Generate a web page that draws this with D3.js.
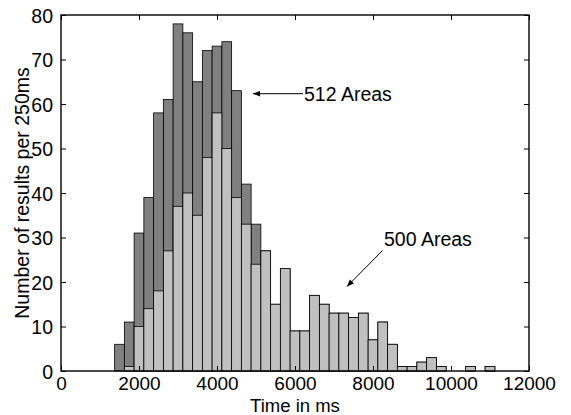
<!DOCTYPE html>
<html>
<head>
<meta charset="utf-8">
<script src="https://cdn.jsdelivr.net/npm/d3@7"></script>
<style>
  html, body { margin: 0; padding: 0; background: #fff; }
  svg { display: block; }
  text { font-family: "Liberation Sans", Arial, Helvetica, sans-serif; fill: #000; }
</style>
</head>
<body>
<svg id="chart" width="571" height="415"></svg>
<script>
// Bin centres (ms), bins are 250 ms wide
const binCenters = [1500,1750,2000,2250,2500,2750,3000,3250,3500,3750,4000,4250,4500,4750,5000,5250,5500,5750,6000,6250,6500,6750,7000,7250,7500,7750,8000,8250,8500,8750,9000,9250,9500,9750,10000,10250,10500,10750,11000];
const areas512 = [6,11,31,39,58,61,78,76,65,72,73,74,63,42,33,27,15,23,9,9,17,15,13,13,12,13,7,11,6,1,1,2,3,1,0,0,1,0,1];
const areas500 = [0,1,10,14,18,27,37,40,35,48,58,50,39,33,24,27,15,23,9,9,17,15,13,13,12,13,7,11,6,1,1,2,3,1,0,0,1,0,1];
const binWidth = 250;
const xTicks = [0,2000,4000,6000,8000,10000,12000];
const yTicks = [0,10,20,30,40,50,60,70,80];
const xLabel = "Time in ms";
const yLabel = "Number of results per 250ms";
const label512 = "512 Areas";
const label500 = "500 Areas";

const svg = d3.select("#chart");
const L = 61, R = 529, T = 15, B = 371;
const x = d3.scaleLinear().domain([0, 12000]).range([L, R]);
const y = d3.scaleLinear().domain([0, 80]).range([B, T]);

function drawBars(vals, fill) {
  const data = binCenters.map((c, i) => ({c, v: vals[i]})).filter(d => d.v > 0);
  svg.append("g").selectAll("rect").data(data).join("rect")
    .attr("x", d => x(d.c - binWidth / 2))
    .attr("width", d => x(d.c + binWidth / 2) - x(d.c - binWidth / 2))
    .attr("y", d => y(d.v))
    .attr("height", d => y(0) - y(d.v))
    .attr("fill", fill)
    .attr("stroke", "#000")
    .attr("stroke-width", 0.8);
}
drawBars(areas512, "#808080");
drawBars(areas500, "#c0c0c0");

// Axes (ticks inward on all sides)
const tickLen = 5;
const gb = svg.append("g").attr("transform", `translate(0,${B})`)
  .call(d3.axisBottom(x).tickValues(xTicks).tickSizeInner(-tickLen).tickSizeOuter(0).tickPadding(6).tickFormat(d3.format("d")));
const gt = svg.append("g").attr("transform", `translate(0,${T})`)
  .call(d3.axisTop(x).tickValues(xTicks).tickSizeInner(-tickLen).tickSizeOuter(0).tickFormat(""));
const gl = svg.append("g").attr("transform", `translate(${L},0)`)
  .call(d3.axisLeft(y).tickValues(yTicks).tickSizeInner(-tickLen).tickSizeOuter(0).tickPadding(8).tickFormat(d3.format("d")));
const gr = svg.append("g").attr("transform", `translate(${R},0)`)
  .call(d3.axisRight(y).tickValues(yTicks).tickSizeInner(-tickLen).tickSizeOuter(0).tickFormat(""));
[gb, gt, gl, gr].forEach(g => {
  g.select(".domain").remove();
  g.selectAll(".tick line").attr("stroke", "#000").attr("stroke-width", 1);
  g.selectAll("text").attr("font-size", "19.5px").attr("font-family", '"Liberation Sans", Arial, sans-serif').attr("fill", "#000");
});
gb.selectAll("text").attr("font-size", "19px").attr("dy", "0.71em");
gl.selectAll("text").attr("dy", "0.36em");

// frame
svg.append("rect").attr("x", L).attr("y", T).attr("width", R - L).attr("height", B - T)
  .attr("fill", "none").attr("stroke", "#000").attr("stroke-width", 1.4);

// axis titles
svg.append("text").attr("x", (L + R) / 2).attr("y", 411.5).attr("text-anchor", "middle")
  .attr("font-size", "18.5px").text(xLabel);
svg.append("text").attr("transform", `translate(29,${(T + B) / 2}) rotate(-90)`)
  .attr("text-anchor", "middle").attr("font-size", "19.5px").text(yLabel);

// annotations
const defs = svg.append("defs");
defs.append("marker").attr("id", "ah").attr("viewBox", "0 0 10 10")
  .attr("refX", 10).attr("refY", 5).attr("markerWidth", 9).attr("markerHeight", 7)
  .attr("markerUnits", "userSpaceOnUse").attr("orient", "auto")
  .append("path").attr("d", "M0,1 L10,5 L0,9 Z").attr("fill", "#000");

svg.append("line").attr("x1", 303).attr("y1", 93.7).attr("x2", 253).attr("y2", 93.7)
  .attr("stroke", "#000").attr("stroke-width", 1).attr("marker-end", "url(#ah)");
svg.append("text").attr("x", 304).attr("y", 101).attr("font-size", "19.5px").text(label512);

svg.append("line").attr("x1", 382.5).attr("y1", 250.5).attr("x2", 347).attr("y2", 286.5)
  .attr("stroke", "#000").attr("stroke-width", 1).attr("marker-end", "url(#ah)");
svg.append("text").attr("x", 384).attr("y", 246).attr("font-size", "19.5px").text(label500);
</script>
</body>
</html>
